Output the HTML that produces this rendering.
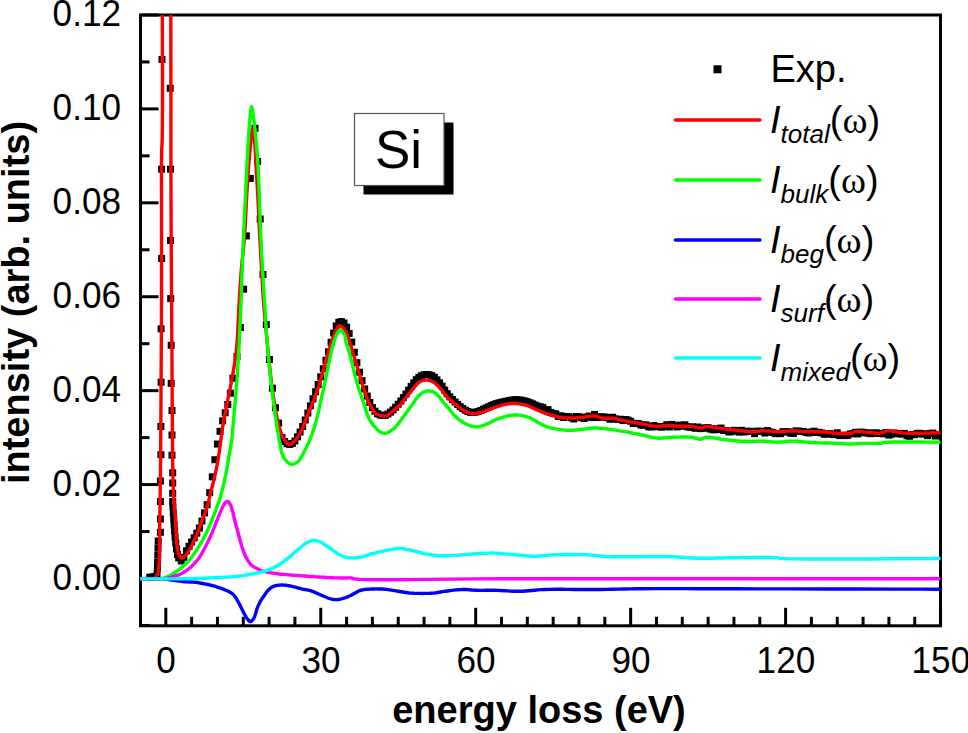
<!DOCTYPE html>
<html><head><meta charset="utf-8"><style>
html,body{margin:0;padding:0;background:#fff;overflow:hidden;}
svg{display:block;}
.tl{font-family:"Liberation Sans",sans-serif;font-size:37px;fill:#000;}
.at{font-family:"Liberation Sans",sans-serif;font-size:38px;font-weight:bold;fill:#000;}
.lg{font-family:"Liberation Sans",sans-serif;font-size:38px;fill:#000;}
.si{font-family:"Liberation Sans",sans-serif;font-size:53px;fill:#000;}
.om{font-family:"Liberation Serif",serif;}
</style></head><body>
<svg width="968" height="733" viewBox="0 0 968 733">
<defs><clipPath id="pc"><rect x="140.5" y="15" width="800" height="610.5"/></clipPath></defs>
<rect x="140.5" y="15.0" width="800.0" height="610.8" fill="none" stroke="#000" stroke-width="3"/>
<line x1="165.80" y1="625.8" x2="165.80" y2="607.8" stroke="#000" stroke-width="3"/>
<line x1="191.62" y1="625.8" x2="191.62" y2="616.8" stroke="#000" stroke-width="3"/>
<line x1="217.45" y1="625.8" x2="217.45" y2="616.8" stroke="#000" stroke-width="3"/>
<line x1="243.28" y1="625.8" x2="243.28" y2="616.8" stroke="#000" stroke-width="3"/>
<line x1="269.10" y1="625.8" x2="269.10" y2="616.8" stroke="#000" stroke-width="3"/>
<line x1="294.93" y1="625.8" x2="294.93" y2="616.8" stroke="#000" stroke-width="3"/>
<line x1="320.75" y1="625.8" x2="320.75" y2="607.8" stroke="#000" stroke-width="3"/>
<line x1="346.58" y1="625.8" x2="346.58" y2="616.8" stroke="#000" stroke-width="3"/>
<line x1="372.40" y1="625.8" x2="372.40" y2="616.8" stroke="#000" stroke-width="3"/>
<line x1="398.23" y1="625.8" x2="398.23" y2="616.8" stroke="#000" stroke-width="3"/>
<line x1="424.05" y1="625.8" x2="424.05" y2="616.8" stroke="#000" stroke-width="3"/>
<line x1="449.88" y1="625.8" x2="449.88" y2="616.8" stroke="#000" stroke-width="3"/>
<line x1="475.70" y1="625.8" x2="475.70" y2="607.8" stroke="#000" stroke-width="3"/>
<line x1="501.53" y1="625.8" x2="501.53" y2="616.8" stroke="#000" stroke-width="3"/>
<line x1="527.35" y1="625.8" x2="527.35" y2="616.8" stroke="#000" stroke-width="3"/>
<line x1="553.17" y1="625.8" x2="553.17" y2="616.8" stroke="#000" stroke-width="3"/>
<line x1="579.00" y1="625.8" x2="579.00" y2="616.8" stroke="#000" stroke-width="3"/>
<line x1="604.83" y1="625.8" x2="604.83" y2="616.8" stroke="#000" stroke-width="3"/>
<line x1="630.65" y1="625.8" x2="630.65" y2="607.8" stroke="#000" stroke-width="3"/>
<line x1="656.48" y1="625.8" x2="656.48" y2="616.8" stroke="#000" stroke-width="3"/>
<line x1="682.30" y1="625.8" x2="682.30" y2="616.8" stroke="#000" stroke-width="3"/>
<line x1="708.12" y1="625.8" x2="708.12" y2="616.8" stroke="#000" stroke-width="3"/>
<line x1="733.95" y1="625.8" x2="733.95" y2="616.8" stroke="#000" stroke-width="3"/>
<line x1="759.78" y1="625.8" x2="759.78" y2="616.8" stroke="#000" stroke-width="3"/>
<line x1="785.60" y1="625.8" x2="785.60" y2="607.8" stroke="#000" stroke-width="3"/>
<line x1="811.42" y1="625.8" x2="811.42" y2="616.8" stroke="#000" stroke-width="3"/>
<line x1="837.25" y1="625.8" x2="837.25" y2="616.8" stroke="#000" stroke-width="3"/>
<line x1="863.08" y1="625.8" x2="863.08" y2="616.8" stroke="#000" stroke-width="3"/>
<line x1="888.90" y1="625.8" x2="888.90" y2="616.8" stroke="#000" stroke-width="3"/>
<line x1="914.72" y1="625.8" x2="914.72" y2="616.8" stroke="#000" stroke-width="3"/>
<line x1="940.55" y1="625.8" x2="940.55" y2="607.8" stroke="#000" stroke-width="3"/>
<line x1="140.5" y1="625.46" x2="149.5" y2="625.46" stroke="#000" stroke-width="3"/>
<line x1="140.5" y1="578.50" x2="158.5" y2="578.50" stroke="#000" stroke-width="3"/>
<line x1="140.5" y1="531.54" x2="149.5" y2="531.54" stroke="#000" stroke-width="3"/>
<line x1="140.5" y1="484.58" x2="158.5" y2="484.58" stroke="#000" stroke-width="3"/>
<line x1="140.5" y1="437.62" x2="149.5" y2="437.62" stroke="#000" stroke-width="3"/>
<line x1="140.5" y1="390.66" x2="158.5" y2="390.66" stroke="#000" stroke-width="3"/>
<line x1="140.5" y1="343.70" x2="149.5" y2="343.70" stroke="#000" stroke-width="3"/>
<line x1="140.5" y1="296.74" x2="158.5" y2="296.74" stroke="#000" stroke-width="3"/>
<line x1="140.5" y1="249.78" x2="149.5" y2="249.78" stroke="#000" stroke-width="3"/>
<line x1="140.5" y1="202.82" x2="158.5" y2="202.82" stroke="#000" stroke-width="3"/>
<line x1="140.5" y1="155.86" x2="149.5" y2="155.86" stroke="#000" stroke-width="3"/>
<line x1="140.5" y1="108.90" x2="158.5" y2="108.90" stroke="#000" stroke-width="3"/>
<line x1="140.5" y1="61.94" x2="149.5" y2="61.94" stroke="#000" stroke-width="3"/>
<line x1="140.5" y1="14.98" x2="158.5" y2="14.98" stroke="#000" stroke-width="3"/>
<g clip-path="url(#pc)" fill="#000">
<rect x="146.30" y="573.70" width="7" height="7"/>
<rect x="148.80" y="573.50" width="7" height="7"/>
<rect x="151.30" y="573.00" width="7" height="7"/>
<rect x="153.50" y="570.50" width="7" height="7"/>
<rect x="153.90" y="564.50" width="7" height="7"/>
<rect x="154.10" y="558.50" width="7" height="7"/>
<rect x="154.30" y="551.50" width="7" height="7"/>
<rect x="154.50" y="544.50" width="7" height="7"/>
<rect x="154.70" y="537.50" width="7" height="7"/>
<rect x="156.90" y="528.80" width="7" height="7"/>
<rect x="156.90" y="515.50" width="7" height="7"/>
<rect x="156.90" y="498.00" width="7" height="7"/>
<rect x="156.90" y="477.50" width="7" height="7"/>
<rect x="157.40" y="451.20" width="7" height="7"/>
<rect x="157.40" y="423.00" width="7" height="7"/>
<rect x="157.60" y="378.70" width="7" height="7"/>
<rect x="157.60" y="325.30" width="7" height="7"/>
<rect x="158.10" y="254.90" width="7" height="7"/>
<rect x="158.10" y="165.70" width="7" height="7"/>
<rect x="158.50" y="56.00" width="7" height="7"/>
<rect x="166.70" y="84.80" width="7" height="7"/>
<rect x="167.00" y="165.70" width="7" height="7"/>
<rect x="167.00" y="237.00" width="7" height="7"/>
<rect x="167.20" y="295.10" width="7" height="7"/>
<rect x="167.70" y="341.80" width="7" height="7"/>
<rect x="167.70" y="379.90" width="7" height="7"/>
<rect x="168.50" y="407.00" width="7" height="7"/>
<rect x="168.50" y="431.50" width="7" height="7"/>
<rect x="168.50" y="451.70" width="7" height="7"/>
<rect x="169.20" y="469.30" width="7" height="7"/>
<rect x="169.20" y="479.50" width="7" height="7"/>
<rect x="169.20" y="489.80" width="7" height="7"/>
<rect x="169.20" y="498.00" width="7" height="7"/>
<rect x="169.40" y="503.50" width="7" height="7"/>
<rect x="169.80" y="509.50" width="7" height="7"/>
<rect x="170.20" y="515.50" width="7" height="7"/>
<rect x="170.60" y="521.50" width="7" height="7"/>
<rect x="171.10" y="527.50" width="7" height="7"/>
<rect x="171.60" y="533.50" width="7" height="7"/>
<rect x="172.20" y="539.50" width="7" height="7"/>
<rect x="173.00" y="545.50" width="7" height="7"/>
<rect x="174.00" y="551.00" width="7" height="7"/>
<rect x="233.50" y="353.10" width="7" height="7"/>
<rect x="236.80" y="324.00" width="7" height="7"/>
<rect x="240.10" y="285.70" width="7" height="7"/>
<rect x="242.90" y="232.40" width="7" height="7"/>
<rect x="246.80" y="174.90" width="7" height="7"/>
<rect x="251.50" y="124.80" width="7" height="7"/>
<rect x="254.10" y="157.90" width="7" height="7"/>
<rect x="256.70" y="215.50" width="7" height="7"/>
<rect x="259.50" y="271.00" width="7" height="7"/>
<rect x="262.80" y="321.10" width="7" height="7"/>
<rect x="265.90" y="356.00" width="7" height="7"/>
<rect x="268.90" y="384.70" width="7" height="7"/>
<rect x="272.00" y="404.20" width="7" height="7"/>
<rect x="275.10" y="419.60" width="7" height="7"/>
<rect x="175.21" y="554.37" width="7" height="7"/>
<rect x="177.80" y="557.47" width="7" height="7"/>
<rect x="180.38" y="553.87" width="7" height="7"/>
<rect x="182.96" y="547.34" width="7" height="7"/>
<rect x="185.54" y="542.80" width="7" height="7"/>
<rect x="188.12" y="538.45" width="7" height="7"/>
<rect x="190.71" y="534.26" width="7" height="7"/>
<rect x="193.29" y="529.68" width="7" height="7"/>
<rect x="195.87" y="524.49" width="7" height="7"/>
<rect x="198.46" y="517.54" width="7" height="7"/>
<rect x="201.04" y="509.36" width="7" height="7"/>
<rect x="203.62" y="501.16" width="7" height="7"/>
<rect x="206.20" y="489.13" width="7" height="7"/>
<rect x="208.79" y="473.31" width="7" height="7"/>
<rect x="211.37" y="456.22" width="7" height="7"/>
<rect x="213.95" y="440.56" width="7" height="7"/>
<rect x="216.53" y="427.84" width="7" height="7"/>
<rect x="219.12" y="417.31" width="7" height="7"/>
<rect x="221.70" y="409.28" width="7" height="7"/>
<rect x="224.28" y="400.96" width="7" height="7"/>
<rect x="226.86" y="389.71" width="7" height="7"/>
<rect x="229.44" y="374.73" width="7" height="7"/>
<rect x="278.51" y="434.02" width="7" height="7"/>
<rect x="281.10" y="438.10" width="7" height="7"/>
<rect x="283.68" y="440.27" width="7" height="7"/>
<rect x="286.26" y="441.01" width="7" height="7"/>
<rect x="288.84" y="439.94" width="7" height="7"/>
<rect x="291.43" y="437.46" width="7" height="7"/>
<rect x="294.01" y="433.36" width="7" height="7"/>
<rect x="296.59" y="428.57" width="7" height="7"/>
<rect x="299.17" y="422.96" width="7" height="7"/>
<rect x="301.75" y="416.45" width="7" height="7"/>
<rect x="304.34" y="409.52" width="7" height="7"/>
<rect x="306.92" y="402.35" width="7" height="7"/>
<rect x="309.50" y="395.24" width="7" height="7"/>
<rect x="312.09" y="388.19" width="7" height="7"/>
<rect x="314.67" y="381.02" width="7" height="7"/>
<rect x="317.25" y="373.36" width="7" height="7"/>
<rect x="319.83" y="365.26" width="7" height="7"/>
<rect x="322.42" y="356.78" width="7" height="7"/>
<rect x="325.00" y="348.23" width="7" height="7"/>
<rect x="327.58" y="338.83" width="7" height="7"/>
<rect x="330.16" y="329.52" width="7" height="7"/>
<rect x="332.75" y="322.40" width="7" height="7"/>
<rect x="335.33" y="318.80" width="7" height="7"/>
<rect x="337.91" y="318.04" width="7" height="7"/>
<rect x="340.49" y="319.49" width="7" height="7"/>
<rect x="343.08" y="323.62" width="7" height="7"/>
<rect x="345.66" y="329.97" width="7" height="7"/>
<rect x="348.24" y="338.59" width="7" height="7"/>
<rect x="350.82" y="348.76" width="7" height="7"/>
<rect x="353.40" y="359.19" width="7" height="7"/>
<rect x="355.99" y="368.74" width="7" height="7"/>
<rect x="358.57" y="377.14" width="7" height="7"/>
<rect x="361.15" y="385.46" width="7" height="7"/>
<rect x="363.74" y="392.57" width="7" height="7"/>
<rect x="366.32" y="398.96" width="7" height="7"/>
<rect x="368.90" y="404.11" width="7" height="7"/>
<rect x="371.48" y="407.70" width="7" height="7"/>
<rect x="374.07" y="410.20" width="7" height="7"/>
<rect x="376.65" y="411.56" width="7" height="7"/>
<rect x="379.23" y="412.05" width="7" height="7"/>
<rect x="381.81" y="411.72" width="7" height="7"/>
<rect x="384.39" y="410.52" width="7" height="7"/>
<rect x="386.98" y="408.64" width="7" height="7"/>
<rect x="389.56" y="406.41" width="7" height="7"/>
<rect x="392.14" y="403.75" width="7" height="7"/>
<rect x="394.73" y="400.73" width="7" height="7"/>
<rect x="397.31" y="397.54" width="7" height="7"/>
<rect x="399.89" y="394.15" width="7" height="7"/>
<rect x="402.47" y="390.54" width="7" height="7"/>
<rect x="405.06" y="386.65" width="7" height="7"/>
<rect x="407.64" y="382.87" width="7" height="7"/>
<rect x="410.22" y="379.35" width="7" height="7"/>
<rect x="412.80" y="376.19" width="7" height="7"/>
<rect x="415.38" y="373.80" width="7" height="7"/>
<rect x="417.97" y="372.24" width="7" height="7"/>
<rect x="420.55" y="371.31" width="7" height="7"/>
<rect x="423.13" y="370.98" width="7" height="7"/>
<rect x="425.72" y="371.29" width="7" height="7"/>
<rect x="428.30" y="372.20" width="7" height="7"/>
<rect x="430.88" y="373.79" width="7" height="7"/>
<rect x="433.46" y="376.34" width="7" height="7"/>
<rect x="436.05" y="379.31" width="7" height="7"/>
<rect x="438.63" y="382.68" width="7" height="7"/>
<rect x="441.21" y="386.61" width="7" height="7"/>
<rect x="443.79" y="390.23" width="7" height="7"/>
<rect x="446.38" y="393.36" width="7" height="7"/>
<rect x="448.96" y="396.06" width="7" height="7"/>
<rect x="451.54" y="398.54" width="7" height="7"/>
<rect x="454.12" y="400.96" width="7" height="7"/>
<rect x="456.71" y="403.16" width="7" height="7"/>
<rect x="459.29" y="405.11" width="7" height="7"/>
<rect x="461.87" y="406.70" width="7" height="7"/>
<rect x="464.45" y="408.05" width="7" height="7"/>
<rect x="467.04" y="408.92" width="7" height="7"/>
<rect x="469.62" y="409.03" width="7" height="7"/>
<rect x="472.20" y="408.60" width="7" height="7"/>
<rect x="474.78" y="407.92" width="7" height="7"/>
<rect x="477.37" y="406.93" width="7" height="7"/>
<rect x="479.95" y="405.70" width="7" height="7"/>
<rect x="482.53" y="404.49" width="7" height="7"/>
<rect x="485.11" y="403.29" width="7" height="7"/>
<rect x="487.69" y="402.06" width="7" height="7"/>
<rect x="490.28" y="400.95" width="7" height="7"/>
<rect x="492.86" y="400.06" width="7" height="7"/>
<rect x="495.44" y="399.35" width="7" height="7"/>
<rect x="498.03" y="398.74" width="7" height="7"/>
<rect x="500.61" y="398.19" width="7" height="7"/>
<rect x="503.19" y="397.63" width="7" height="7"/>
<rect x="505.77" y="397.07" width="7" height="7"/>
<rect x="508.36" y="396.59" width="7" height="7"/>
<rect x="510.94" y="396.32" width="7" height="7"/>
<rect x="513.52" y="396.31" width="7" height="7"/>
<rect x="516.10" y="396.51" width="7" height="7"/>
<rect x="518.68" y="396.89" width="7" height="7"/>
<rect x="521.27" y="397.44" width="7" height="7"/>
<rect x="523.85" y="398.22" width="7" height="7"/>
<rect x="526.43" y="399.25" width="7" height="7"/>
<rect x="529.01" y="400.40" width="7" height="7"/>
<rect x="531.60" y="401.54" width="7" height="7"/>
<rect x="534.18" y="402.68" width="7" height="7"/>
<rect x="536.76" y="403.29" width="7" height="7"/>
<rect x="539.35" y="403.93" width="7" height="7"/>
<rect x="541.93" y="406.75" width="7" height="7"/>
<rect x="544.51" y="406.14" width="7" height="7"/>
<rect x="547.09" y="408.97" width="7" height="7"/>
<rect x="549.67" y="409.89" width="7" height="7"/>
<rect x="552.26" y="410.32" width="7" height="7"/>
<rect x="554.84" y="412.95" width="7" height="7"/>
<rect x="557.42" y="412.26" width="7" height="7"/>
<rect x="560.00" y="413.99" width="7" height="7"/>
<rect x="562.59" y="413.03" width="7" height="7"/>
<rect x="565.17" y="413.17" width="7" height="7"/>
<rect x="567.75" y="414.26" width="7" height="7"/>
<rect x="570.34" y="415.48" width="7" height="7"/>
<rect x="572.92" y="413.06" width="7" height="7"/>
<rect x="575.50" y="413.16" width="7" height="7"/>
<rect x="578.08" y="414.22" width="7" height="7"/>
<rect x="580.66" y="415.01" width="7" height="7"/>
<rect x="583.25" y="413.47" width="7" height="7"/>
<rect x="585.83" y="412.51" width="7" height="7"/>
<rect x="588.41" y="414.06" width="7" height="7"/>
<rect x="591.00" y="410.99" width="7" height="7"/>
<rect x="593.58" y="414.05" width="7" height="7"/>
<rect x="596.16" y="413.30" width="7" height="7"/>
<rect x="598.74" y="413.47" width="7" height="7"/>
<rect x="601.33" y="413.53" width="7" height="7"/>
<rect x="603.91" y="414.12" width="7" height="7"/>
<rect x="606.49" y="415.71" width="7" height="7"/>
<rect x="609.07" y="413.76" width="7" height="7"/>
<rect x="611.65" y="415.34" width="7" height="7"/>
<rect x="614.24" y="416.00" width="7" height="7"/>
<rect x="616.82" y="415.73" width="7" height="7"/>
<rect x="619.40" y="416.93" width="7" height="7"/>
<rect x="621.99" y="416.01" width="7" height="7"/>
<rect x="624.57" y="416.62" width="7" height="7"/>
<rect x="627.15" y="417.76" width="7" height="7"/>
<rect x="629.73" y="419.98" width="7" height="7"/>
<rect x="632.32" y="419.85" width="7" height="7"/>
<rect x="634.90" y="420.11" width="7" height="7"/>
<rect x="637.48" y="421.52" width="7" height="7"/>
<rect x="640.06" y="421.54" width="7" height="7"/>
<rect x="642.64" y="421.44" width="7" height="7"/>
<rect x="645.23" y="423.37" width="7" height="7"/>
<rect x="647.81" y="423.34" width="7" height="7"/>
<rect x="650.39" y="422.08" width="7" height="7"/>
<rect x="652.98" y="423.24" width="7" height="7"/>
<rect x="655.56" y="422.99" width="7" height="7"/>
<rect x="658.14" y="423.74" width="7" height="7"/>
<rect x="660.72" y="422.84" width="7" height="7"/>
<rect x="663.31" y="421.22" width="7" height="7"/>
<rect x="665.89" y="423.48" width="7" height="7"/>
<rect x="668.47" y="420.91" width="7" height="7"/>
<rect x="671.05" y="422.10" width="7" height="7"/>
<rect x="673.63" y="423.41" width="7" height="7"/>
<rect x="676.22" y="421.61" width="7" height="7"/>
<rect x="678.80" y="422.74" width="7" height="7"/>
<rect x="681.38" y="421.31" width="7" height="7"/>
<rect x="683.96" y="423.35" width="7" height="7"/>
<rect x="686.55" y="423.75" width="7" height="7"/>
<rect x="689.13" y="423.38" width="7" height="7"/>
<rect x="691.71" y="424.80" width="7" height="7"/>
<rect x="694.30" y="423.51" width="7" height="7"/>
<rect x="696.88" y="425.10" width="7" height="7"/>
<rect x="699.46" y="424.71" width="7" height="7"/>
<rect x="702.04" y="424.45" width="7" height="7"/>
<rect x="704.62" y="424.18" width="7" height="7"/>
<rect x="707.21" y="425.66" width="7" height="7"/>
<rect x="709.79" y="426.32" width="7" height="7"/>
<rect x="712.37" y="425.16" width="7" height="7"/>
<rect x="714.95" y="426.12" width="7" height="7"/>
<rect x="717.54" y="424.53" width="7" height="7"/>
<rect x="720.12" y="426.89" width="7" height="7"/>
<rect x="722.70" y="427.02" width="7" height="7"/>
<rect x="725.29" y="428.44" width="7" height="7"/>
<rect x="727.87" y="428.20" width="7" height="7"/>
<rect x="730.45" y="426.78" width="7" height="7"/>
<rect x="733.03" y="427.41" width="7" height="7"/>
<rect x="735.62" y="428.60" width="7" height="7"/>
<rect x="738.20" y="426.81" width="7" height="7"/>
<rect x="740.78" y="428.46" width="7" height="7"/>
<rect x="743.36" y="427.79" width="7" height="7"/>
<rect x="745.94" y="427.88" width="7" height="7"/>
<rect x="748.53" y="427.87" width="7" height="7"/>
<rect x="751.11" y="430.14" width="7" height="7"/>
<rect x="753.69" y="427.78" width="7" height="7"/>
<rect x="756.28" y="427.71" width="7" height="7"/>
<rect x="758.86" y="427.94" width="7" height="7"/>
<rect x="761.44" y="429.50" width="7" height="7"/>
<rect x="764.02" y="427.10" width="7" height="7"/>
<rect x="766.61" y="428.46" width="7" height="7"/>
<rect x="769.19" y="428.96" width="7" height="7"/>
<rect x="771.77" y="430.17" width="7" height="7"/>
<rect x="774.35" y="430.02" width="7" height="7"/>
<rect x="776.93" y="430.13" width="7" height="7"/>
<rect x="779.52" y="428.15" width="7" height="7"/>
<rect x="782.10" y="428.46" width="7" height="7"/>
<rect x="784.68" y="428.15" width="7" height="7"/>
<rect x="787.27" y="429.75" width="7" height="7"/>
<rect x="789.85" y="429.97" width="7" height="7"/>
<rect x="792.43" y="427.44" width="7" height="7"/>
<rect x="795.01" y="427.63" width="7" height="7"/>
<rect x="797.60" y="427.94" width="7" height="7"/>
<rect x="800.18" y="428.08" width="7" height="7"/>
<rect x="802.76" y="429.03" width="7" height="7"/>
<rect x="805.34" y="429.49" width="7" height="7"/>
<rect x="807.92" y="428.54" width="7" height="7"/>
<rect x="810.51" y="427.73" width="7" height="7"/>
<rect x="813.09" y="429.01" width="7" height="7"/>
<rect x="815.67" y="428.80" width="7" height="7"/>
<rect x="818.26" y="429.42" width="7" height="7"/>
<rect x="820.84" y="430.78" width="7" height="7"/>
<rect x="823.42" y="430.29" width="7" height="7"/>
<rect x="826.00" y="430.19" width="7" height="7"/>
<rect x="828.59" y="430.81" width="7" height="7"/>
<rect x="831.17" y="431.16" width="7" height="7"/>
<rect x="833.75" y="429.29" width="7" height="7"/>
<rect x="836.33" y="432.08" width="7" height="7"/>
<rect x="838.91" y="431.76" width="7" height="7"/>
<rect x="841.50" y="432.09" width="7" height="7"/>
<rect x="844.08" y="431.83" width="7" height="7"/>
<rect x="846.66" y="430.45" width="7" height="7"/>
<rect x="849.25" y="430.13" width="7" height="7"/>
<rect x="851.83" y="428.79" width="7" height="7"/>
<rect x="854.41" y="430.41" width="7" height="7"/>
<rect x="856.99" y="428.65" width="7" height="7"/>
<rect x="859.58" y="428.80" width="7" height="7"/>
<rect x="862.16" y="429.42" width="7" height="7"/>
<rect x="864.74" y="429.45" width="7" height="7"/>
<rect x="867.32" y="430.20" width="7" height="7"/>
<rect x="869.90" y="429.44" width="7" height="7"/>
<rect x="872.49" y="429.42" width="7" height="7"/>
<rect x="875.07" y="429.98" width="7" height="7"/>
<rect x="877.65" y="429.78" width="7" height="7"/>
<rect x="880.24" y="430.35" width="7" height="7"/>
<rect x="882.82" y="428.96" width="7" height="7"/>
<rect x="885.40" y="431.59" width="7" height="7"/>
<rect x="887.98" y="430.81" width="7" height="7"/>
<rect x="890.57" y="429.45" width="7" height="7"/>
<rect x="893.15" y="429.93" width="7" height="7"/>
<rect x="895.73" y="430.38" width="7" height="7"/>
<rect x="898.31" y="430.56" width="7" height="7"/>
<rect x="900.89" y="429.88" width="7" height="7"/>
<rect x="903.48" y="432.24" width="7" height="7"/>
<rect x="906.06" y="432.73" width="7" height="7"/>
<rect x="908.64" y="431.05" width="7" height="7"/>
<rect x="911.22" y="431.11" width="7" height="7"/>
<rect x="913.81" y="429.83" width="7" height="7"/>
<rect x="916.39" y="429.88" width="7" height="7"/>
<rect x="918.97" y="430.63" width="7" height="7"/>
<rect x="921.56" y="430.37" width="7" height="7"/>
<rect x="924.14" y="432.16" width="7" height="7"/>
<rect x="926.72" y="430.01" width="7" height="7"/>
<rect x="929.30" y="429.54" width="7" height="7"/>
<rect x="931.88" y="432.49" width="7" height="7"/>
<rect x="934.47" y="431.11" width="7" height="7"/>
</g>
<g clip-path="url(#pc)" fill="none" stroke-width="3.4" stroke-linejoin="round" stroke-linecap="round">
<path d="M130.00,578.60 L130.69,578.60 L132.55,578.60 L135.24,578.60 L138.46,578.59 L141.86,578.58 L145.14,578.56 L147.96,578.54 L150.00,578.50 L150.66,578.49 L151.25,578.48 L151.80,578.48 L152.30,578.48 L152.76,578.46 L153.19,578.43 L153.60,578.38 L154.00,578.30 L154.27,578.23 L154.52,578.17 L154.76,578.09 L154.99,578.01 L155.20,577.91 L155.41,577.79 L155.61,577.66 L155.80,577.50 L156.02,577.27 L156.22,577.01 L156.41,576.72 L156.58,576.40 L156.74,576.07 L156.90,575.72 L157.05,575.36 L157.20,575.00 L157.37,574.56 L157.53,574.10 L157.68,573.62 L157.82,573.12 L157.95,572.61 L158.07,572.09 L158.19,571.55 L158.30,571.00 L158.42,570.32 L158.53,569.63 L158.63,568.91 L158.72,568.18 L158.80,567.42 L158.87,566.64 L158.94,565.83 L159.00,565.00 L159.07,563.89 L159.13,562.73 L159.17,561.53 L159.20,560.29 L159.23,559.01 L159.25,557.70 L159.27,556.36 L159.30,555.00 L159.33,553.28 L159.36,551.51 L159.39,549.69 L159.41,547.82 L159.43,545.92 L159.45,543.97 L159.47,542.00 L159.50,540.00 L159.53,537.64 L159.57,535.20 L159.61,532.71 L159.65,530.18 L159.68,527.63 L159.72,525.07 L159.76,522.52 L159.80,520.00 L159.84,517.53 L159.87,515.09 L159.91,512.68 L159.95,510.25 L159.99,507.80 L160.02,505.28 L160.06,502.69 L160.10,500.00 L160.15,496.57 L160.20,493.03 L160.25,489.38 L160.31,485.65 L160.36,481.83 L160.41,477.95 L160.46,474.00 L160.50,470.00 L160.55,465.31 L160.59,460.51 L160.63,455.62 L160.66,450.64 L160.70,445.58 L160.73,440.45 L160.77,435.25 L160.80,430.00 L160.84,424.10 L160.88,418.17 L160.91,412.17 L160.95,406.08 L160.99,399.85 L161.02,393.45 L161.06,386.85 L161.10,380.00 L161.15,370.96 L161.21,361.52 L161.26,351.76 L161.32,341.73 L161.38,331.48 L161.43,321.07 L161.47,310.55 L161.50,300.00 L161.52,287.79 L161.53,274.93 L161.53,261.72 L161.52,248.43 L161.51,235.33 L161.50,222.71 L161.50,210.84 L161.50,200.00 L161.50,192.95 L161.48,186.02 L161.47,179.32 L161.45,172.91 L161.45,166.89 L161.47,161.34 L161.52,156.35 L161.60,152.00 L161.66,150.21 L161.73,148.74 L161.81,147.49 L161.89,146.32 L161.98,145.11 L162.06,143.74 L162.13,142.07 L162.20,140.00 L162.36,127.92 L162.44,109.21 L162.47,86.42 L162.45,62.07 L162.41,38.72 L162.36,18.90 L162.32,5.15 L162.30,0.00 M170.80,0.00 L170.80,2.93 L170.81,10.94 L170.82,22.85 L170.84,37.50 L170.85,53.71 L170.87,70.31 L170.89,86.13 L170.90,100.00 L170.91,112.54 L170.91,125.12 L170.92,137.73 L170.92,150.33 L170.93,162.89 L170.94,175.37 L170.97,187.75 L171.00,200.00 L171.04,211.48 L171.09,222.83 L171.15,234.10 L171.22,245.30 L171.29,256.46 L171.36,267.61 L171.43,278.78 L171.50,290.00 L171.57,301.37 L171.65,312.93 L171.72,324.55 L171.80,336.14 L171.88,347.58 L171.96,358.78 L172.03,369.62 L172.10,380.00 L172.15,388.16 L172.20,396.14 L172.25,403.92 L172.29,411.52 L172.34,418.92 L172.39,426.14 L172.44,433.16 L172.50,440.00 L172.55,445.48 L172.60,450.89 L172.64,456.20 L172.69,461.36 L172.75,466.36 L172.82,471.16 L172.90,475.71 L173.00,480.00 L173.08,482.86 L173.16,485.58 L173.24,488.19 L173.33,490.70 L173.43,493.12 L173.54,495.46 L173.66,497.75 L173.80,500.00 L173.93,501.75 L174.07,503.41 L174.23,505.00 L174.39,506.57 L174.55,508.12 L174.71,509.69 L174.86,511.31 L175.00,513.00 L175.14,515.03 L175.28,517.15 L175.41,519.31 L175.53,521.51 L175.65,523.70 L175.77,525.87 L175.88,527.97 L176.00,530.00 L176.10,531.70 L176.18,533.36 L176.25,535.00 L176.33,536.61 L176.42,538.19 L176.52,539.75 L176.65,541.29 L176.80,542.80 L176.96,544.17 L177.13,545.55 L177.31,546.93 L177.51,548.28 L177.73,549.59 L177.96,550.82 L178.22,551.97 L178.50,553.00 L178.69,553.62 L178.89,554.21 L179.10,554.77 L179.31,555.30 L179.54,555.79 L179.77,556.24 L180.03,556.64 L180.30,557.00 L180.50,557.23 L180.71,557.45 L180.93,557.66 L181.16,557.84 L181.39,557.99 L181.62,558.10 L181.86,558.18 L182.10,558.20 L182.38,558.16 L182.67,558.05 L182.96,557.88 L183.26,557.67 L183.56,557.41 L183.87,557.12 L184.18,556.82 L184.50,556.50 L185.04,555.92 L185.60,555.25 L186.18,554.50 L186.77,553.68 L187.38,552.80 L187.98,551.87 L188.59,550.90 L189.20,549.90 L190.07,548.40 L190.97,546.76 L191.89,545.01 L192.82,543.18 L193.73,541.30 L194.63,539.41 L195.49,537.53 L196.30,535.70 L197.04,533.95 L197.74,532.19 L198.41,530.43 L199.05,528.67 L199.68,526.90 L200.31,525.14 L200.95,523.37 L201.60,521.60 L202.27,519.83 L202.96,518.06 L203.66,516.29 L204.35,514.52 L205.03,512.75 L205.69,510.97 L206.32,509.19 L206.90,507.40 L207.42,505.65 L207.90,503.90 L208.35,502.16 L208.78,500.41 L209.20,498.65 L209.61,496.87 L210.05,495.05 L210.50,493.20 L211.04,491.08 L211.59,488.92 L212.16,486.71 L212.73,484.48 L213.30,482.23 L213.85,479.98 L214.39,477.73 L214.90,475.50 L215.38,473.31 L215.84,471.17 L216.29,469.04 L216.72,466.90 L217.15,464.72 L217.56,462.48 L217.98,460.15 L218.40,457.70 L218.93,454.34 L219.43,450.75 L219.93,447.00 L220.42,443.15 L220.91,439.27 L221.42,435.41 L221.94,431.63 L222.50,428.00 L223.03,424.80 L223.59,421.66 L224.15,418.56 L224.73,415.50 L225.32,412.45 L225.91,409.41 L226.50,406.37 L227.10,403.30 L227.70,400.24 L228.32,397.20 L228.95,394.17 L229.58,391.14 L230.20,388.09 L230.82,385.01 L231.42,381.89 L232.00,378.70 L232.62,375.20 L233.23,371.70 L233.84,368.18 L234.43,364.60 L235.00,360.95 L235.54,357.18 L236.04,353.27 L236.50,349.20 L237.01,343.59 L237.44,337.55 L237.80,331.22 L238.11,324.73 L238.40,318.23 L238.68,311.86 L238.98,305.73 L239.30,300.00 L239.57,295.67 L239.83,291.50 L240.09,287.47 L240.35,283.54 L240.62,279.66 L240.89,275.80 L241.18,271.93 L241.50,268.00 L241.84,264.12 L242.22,260.28 L242.61,256.46 L243.02,252.64 L243.42,248.81 L243.81,244.93 L244.17,241.01 L244.50,237.00 L244.81,232.48 L245.10,227.81 L245.36,223.05 L245.60,218.26 L245.82,213.49 L246.04,208.82 L246.27,204.30 L246.50,200.00 L246.69,196.66 L246.87,193.46 L247.04,190.37 L247.21,187.34 L247.39,184.33 L247.58,181.29 L247.78,178.20 L248.00,175.00 L248.27,171.31 L248.55,167.46 L248.86,163.51 L249.17,159.55 L249.50,155.65 L249.83,151.87 L250.17,148.30 L250.50,145.00 L250.74,142.61 L250.98,140.04 L251.22,137.46 L251.46,135.00 L251.71,132.83 L251.96,131.08 L252.23,129.93 L252.50,129.50 L252.74,129.77 L253.00,130.53 L253.26,131.69 L253.53,133.14 L253.80,134.80 L254.05,136.56 L254.29,138.32 L254.50,140.00 L254.78,142.58 L255.00,145.39 L255.19,148.40 L255.36,151.56 L255.51,154.84 L255.66,158.20 L255.82,161.60 L256.00,165.00 L256.24,169.11 L256.49,173.38 L256.75,177.77 L257.01,182.24 L257.27,186.74 L257.52,191.23 L257.77,195.66 L258.00,200.00 L258.20,204.03 L258.39,208.00 L258.58,211.93 L258.75,215.85 L258.93,219.77 L259.11,223.72 L259.30,227.72 L259.50,231.80 L259.73,236.27 L259.96,240.81 L260.21,245.40 L260.46,250.03 L260.71,254.68 L260.97,259.34 L261.23,263.98 L261.50,268.60 L261.77,273.23 L262.04,277.90 L262.31,282.58 L262.58,287.25 L262.87,291.90 L263.17,296.48 L263.47,300.99 L263.80,305.40 L264.11,309.25 L264.43,313.02 L264.76,316.73 L265.10,320.39 L265.44,324.03 L265.79,327.66 L266.15,331.31 L266.50,335.00 L266.86,338.76 L267.22,342.55 L267.59,346.36 L267.96,350.16 L268.34,353.94 L268.72,357.69 L269.11,361.38 L269.50,365.00 L269.86,368.25 L270.22,371.48 L270.59,374.67 L270.96,377.82 L271.34,380.93 L271.72,384.00 L272.11,387.03 L272.50,390.00 L272.86,392.64 L273.22,395.28 L273.59,397.89 L273.97,400.46 L274.34,402.98 L274.73,405.42 L275.11,407.76 L275.50,410.00 L275.80,411.66 L276.11,413.26 L276.41,414.81 L276.72,416.31 L277.03,417.77 L277.34,419.20 L277.67,420.61 L278.00,422.00 L278.29,423.20 L278.58,424.36 L278.87,425.51 L279.16,426.63 L279.47,427.74 L279.79,428.83 L280.13,429.92 L280.50,431.00 L280.88,432.05 L281.26,433.10 L281.67,434.15 L282.09,435.18 L282.53,436.19 L282.99,437.17 L283.48,438.11 L284.00,439.00 L284.48,439.80 L284.99,440.63 L285.51,441.47 L286.05,442.26 L286.61,442.98 L287.19,443.58 L287.79,444.03 L288.40,444.30 L288.94,444.37 L289.51,444.31 L290.10,444.15 L290.69,443.90 L291.29,443.60 L291.88,443.25 L292.45,442.87 L293.00,442.50 L293.61,442.03 L294.21,441.51 L294.79,440.92 L295.35,440.29 L295.91,439.62 L296.45,438.93 L296.98,438.22 L297.50,437.50 L298.07,436.68 L298.62,435.83 L299.14,434.96 L299.66,434.06 L300.16,433.11 L300.67,432.13 L301.18,431.09 L301.70,430.00 L302.42,428.39 L303.13,426.63 L303.85,424.77 L304.56,422.84 L305.28,420.86 L306.01,418.87 L306.75,416.91 L307.50,415.00 L308.28,413.14 L309.07,411.30 L309.88,409.47 L310.70,407.65 L311.52,405.80 L312.33,403.92 L313.12,401.99 L313.90,400.00 L314.77,397.65 L315.63,395.22 L316.47,392.74 L317.31,390.21 L318.13,387.65 L318.94,385.08 L319.73,382.53 L320.50,380.00 L321.24,377.49 L321.96,374.94 L322.65,372.38 L323.34,369.83 L324.01,367.29 L324.67,364.80 L325.34,362.36 L326.00,360.00 L326.57,358.00 L327.14,356.04 L327.70,354.11 L328.26,352.21 L328.81,350.35 L329.37,348.53 L329.93,346.74 L330.50,345.00 L330.98,343.52 L331.46,342.07 L331.93,340.65 L332.40,339.26 L332.89,337.90 L333.39,336.57 L333.93,335.27 L334.50,334.00 L335.04,332.80 L335.60,331.50 L336.17,330.18 L336.77,328.91 L337.39,327.76 L338.03,326.81 L338.70,326.13 L339.40,325.80 L340.04,325.81 L340.73,326.03 L341.45,326.45 L342.18,327.01 L342.90,327.68 L343.61,328.43 L344.28,329.22 L344.90,330.00 L345.67,331.18 L346.37,332.54 L347.02,334.05 L347.62,335.67 L348.18,337.35 L348.73,339.04 L349.26,340.70 L349.80,342.30 L350.32,343.82 L350.80,345.34 L351.27,346.86 L351.72,348.39 L352.16,349.92 L352.60,351.44 L353.05,352.97 L353.50,354.50 L353.96,356.03 L354.43,357.57 L354.89,359.11 L355.35,360.65 L355.81,362.19 L356.28,363.72 L356.74,365.26 L357.20,366.80 L357.66,368.34 L358.13,369.88 L358.59,371.41 L359.06,372.95 L359.52,374.49 L359.98,376.03 L360.44,377.56 L360.90,379.10 L361.35,380.63 L361.78,382.16 L362.20,383.68 L362.63,385.21 L363.07,386.74 L363.52,388.26 L363.99,389.78 L364.50,391.30 L365.04,392.86 L365.60,394.43 L366.17,396.01 L366.76,397.58 L367.38,399.13 L368.02,400.66 L368.69,402.15 L369.40,403.60 L370.08,404.96 L370.78,406.35 L371.50,407.73 L372.25,409.08 L373.03,410.36 L373.84,411.53 L374.70,412.55 L375.60,413.40 L376.34,413.92 L377.13,414.34 L377.95,414.69 L378.79,414.97 L379.64,415.19 L380.46,415.38 L381.25,415.55 L382.00,415.70 L382.54,415.82 L383.06,415.92 L383.57,416.02 L384.07,416.09 L384.56,416.13 L385.04,416.13 L385.52,416.09 L386.00,416.00 L386.52,415.83 L387.03,415.60 L387.54,415.31 L388.04,414.98 L388.53,414.62 L389.02,414.25 L389.51,413.87 L390.00,413.50 L390.51,413.11 L391.00,412.70 L391.48,412.28 L391.96,411.84 L392.45,411.39 L392.95,410.94 L393.46,410.47 L394.00,410.00 L394.69,409.43 L395.42,408.85 L396.18,408.26 L396.96,407.66 L397.74,407.03 L398.51,406.39 L399.27,405.71 L400.00,405.00 L400.78,404.16 L401.55,403.27 L402.30,402.34 L403.04,401.38 L403.77,400.40 L404.51,399.42 L405.25,398.45 L406.00,397.50 L406.76,396.56 L407.52,395.62 L408.28,394.67 L409.05,393.73 L409.81,392.79 L410.58,391.85 L411.34,390.92 L412.10,390.00 L412.84,389.08 L413.58,388.12 L414.33,387.15 L415.07,386.20 L415.81,385.28 L416.55,384.42 L417.28,383.66 L418.00,383.00 L418.50,382.61 L419.00,382.26 L419.49,381.95 L419.98,381.67 L420.47,381.42 L420.97,381.20 L421.48,380.99 L422.00,380.80 L422.53,380.62 L423.07,380.46 L423.61,380.32 L424.17,380.20 L424.72,380.11 L425.28,380.04 L425.84,380.01 L426.40,380.00 L426.97,380.03 L427.55,380.09 L428.14,380.18 L428.72,380.30 L429.30,380.44 L429.88,380.61 L430.45,380.80 L431.00,381.00 L431.55,381.22 L432.09,381.47 L432.61,381.74 L433.14,382.03 L433.65,382.34 L434.17,382.67 L434.68,383.02 L435.20,383.40 L435.80,383.87 L436.40,384.37 L436.99,384.90 L437.58,385.46 L438.18,386.05 L438.78,386.67 L439.38,387.32 L440.00,388.00 L440.80,388.95 L441.60,390.00 L442.41,391.11 L443.22,392.27 L444.06,393.44 L444.93,394.60 L445.84,395.73 L446.80,396.80 L447.89,397.90 L449.07,398.99 L450.29,400.06 L451.55,401.12 L452.81,402.14 L454.06,403.14 L455.26,404.09 L456.40,405.00 L457.27,405.71 L458.09,406.39 L458.89,407.05 L459.68,407.69 L460.47,408.31 L461.28,408.90 L462.12,409.46 L463.00,410.00 L463.97,410.55 L464.97,411.10 L466.00,411.64 L467.05,412.14 L468.12,412.59 L469.20,412.98 L470.30,413.29 L471.40,413.50 L472.53,413.61 L473.68,413.64 L474.83,413.58 L476.01,413.45 L477.19,413.27 L478.40,413.04 L479.64,412.78 L480.90,412.50 L482.51,412.08 L484.18,411.55 L485.90,410.94 L487.65,410.28 L489.41,409.60 L491.15,408.92 L492.85,408.28 L494.50,407.70 L495.93,407.22 L497.32,406.73 L498.70,406.24 L500.06,405.78 L501.41,405.34 L502.76,404.94 L504.12,404.59 L505.50,404.30 L506.85,404.07 L508.21,403.88 L509.58,403.73 L510.94,403.62 L512.31,403.55 L513.68,403.52 L515.04,403.54 L516.40,403.60 L517.77,403.71 L519.14,403.87 L520.51,404.07 L521.88,404.32 L523.24,404.61 L524.60,404.93 L525.96,405.30 L527.30,405.70 L528.68,406.18 L530.05,406.73 L531.41,407.34 L532.77,407.98 L534.12,408.64 L535.47,409.29 L536.83,409.92 L538.20,410.50 L539.55,411.04 L540.91,411.58 L542.27,412.10 L543.63,412.62 L544.99,413.12 L546.36,413.60 L547.73,414.06 L549.10,414.50 L550.45,414.92 L551.81,415.33 L553.18,415.73 L554.54,416.10 L555.91,416.45 L557.27,416.77 L558.64,417.06 L560.00,417.30 L561.31,417.49 L562.61,417.65 L563.90,417.77 L565.20,417.86 L566.50,417.93 L567.81,417.97 L569.15,417.99 L570.50,418.00 L572.00,417.98 L573.53,417.92 L575.08,417.84 L576.64,417.73 L578.21,417.60 L579.78,417.47 L581.34,417.33 L582.90,417.20 L584.48,417.04 L586.11,416.82 L587.75,416.58 L589.38,416.34 L590.98,416.13 L592.51,415.99 L593.96,415.93 L595.30,416.00 L596.17,416.14 L596.96,416.36 L597.69,416.64 L598.40,416.94 L599.11,417.25 L599.84,417.54 L600.63,417.80 L601.50,418.00 L602.84,418.17 L604.29,418.24 L605.83,418.25 L607.43,418.23 L609.06,418.20 L610.71,418.21 L612.33,418.26 L613.90,418.40 L615.45,418.63 L616.98,418.92 L618.50,419.25 L620.02,419.62 L621.55,420.00 L623.10,420.38 L624.68,420.76 L626.30,421.10 L628.15,421.46 L630.05,421.82 L631.98,422.17 L633.94,422.53 L635.91,422.87 L637.88,423.22 L639.85,423.56 L641.80,423.90 L643.76,424.27 L645.77,424.67 L647.78,425.09 L649.79,425.50 L651.77,425.87 L653.70,426.17 L655.55,426.39 L657.30,426.50 L658.56,426.48 L659.76,426.38 L660.90,426.21 L662.01,426.01 L663.11,425.81 L664.23,425.62 L665.39,425.48 L666.60,425.40 L668.06,425.40 L669.57,425.46 L671.12,425.56 L672.69,425.69 L674.27,425.84 L675.86,425.98 L677.44,426.11 L679.00,426.20 L680.56,426.25 L682.14,426.27 L683.73,426.28 L685.31,426.29 L686.88,426.30 L688.43,426.33 L689.94,426.39 L691.40,426.50 L692.65,426.66 L693.88,426.88 L695.10,427.14 L696.29,427.40 L697.46,427.65 L698.58,427.85 L699.67,427.98 L700.70,428.00 L701.44,427.93 L702.11,427.78 L702.73,427.59 L703.35,427.37 L703.97,427.15 L704.64,426.95 L705.37,426.79 L706.20,426.70 L707.86,426.69 L709.75,426.82 L711.82,427.05 L714.02,427.36 L716.30,427.70 L718.63,428.07 L720.94,428.41 L723.20,428.70 L725.68,428.99 L728.27,429.30 L730.92,429.61 L733.58,429.93 L736.21,430.23 L738.75,430.52 L741.16,430.78 L743.40,431.00 L744.92,431.15 L746.38,431.30 L747.77,431.45 L749.12,431.58 L750.43,431.69 L751.70,431.77 L752.96,431.81 L754.20,431.80 L755.22,431.74 L756.18,431.63 L757.10,431.48 L758.01,431.32 L758.93,431.15 L759.89,431.00 L760.91,430.88 L762.00,430.80 L763.68,430.78 L765.50,430.83 L767.42,430.94 L769.42,431.07 L771.45,431.22 L773.50,431.35 L775.53,431.45 L777.50,431.50 L779.43,431.49 L781.34,431.43 L783.25,431.35 L785.16,431.25 L787.08,431.15 L789.03,431.07 L791.00,431.01 L793.00,431.00 L795.27,431.04 L797.62,431.12 L800.02,431.24 L802.43,431.37 L804.83,431.50 L807.17,431.63 L809.44,431.73 L811.60,431.80 L813.29,431.82 L814.95,431.80 L816.56,431.77 L818.14,431.74 L819.68,431.71 L821.17,431.70 L822.61,431.73 L824.00,431.80 L825.03,431.90 L825.98,432.02 L826.88,432.17 L827.76,432.33 L828.65,432.49 L829.58,432.65 L830.59,432.79 L831.70,432.90 L833.68,433.05 L835.95,433.21 L838.41,433.35 L840.97,433.46 L843.50,433.53 L845.92,433.54 L848.12,433.46 L850.00,433.30 L850.93,433.14 L851.72,432.91 L852.43,432.66 L853.10,432.38 L853.78,432.11 L854.51,431.86 L855.33,431.65 L856.30,431.50 L858.63,431.43 L861.48,431.60 L864.68,431.92 L868.07,432.32 L871.48,432.71 L874.73,433.03 L877.66,433.18 L880.10,433.10 L881.24,432.91 L882.24,432.64 L883.13,432.31 L883.97,431.96 L884.81,431.61 L885.67,431.30 L886.62,431.05 L887.70,430.90 L889.48,430.88 L891.37,431.04 L893.37,431.34 L895.49,431.72 L897.73,432.14 L900.07,432.54 L902.53,432.88 L905.10,433.10 L909.85,433.24 L915.79,433.25 L922.37,433.17 L929.01,433.02 L935.16,432.84 L940.25,432.68 L943.72,432.55 L945.00,432.50" stroke="#ff0000"/>
<path d="M130.00,578.60 L131.04,578.63 L133.82,578.69 L137.87,578.77 L142.69,578.85 L147.80,578.89 L152.71,578.88 L156.94,578.79 L160.00,578.60 L160.98,578.48 L161.85,578.36 L162.63,578.22 L163.34,578.07 L164.01,577.91 L164.66,577.73 L165.32,577.52 L166.00,577.30 L166.65,577.07 L167.28,576.83 L167.89,576.57 L168.49,576.30 L169.10,576.01 L169.71,575.70 L170.34,575.36 L171.00,575.00 L171.90,574.49 L172.84,573.91 L173.82,573.30 L174.81,572.65 L175.81,571.99 L176.78,571.31 L177.72,570.65 L178.60,570.00 L179.33,569.45 L180.04,568.90 L180.72,568.35 L181.39,567.80 L182.05,567.25 L182.69,566.68 L183.34,566.10 L184.00,565.50 L184.69,564.86 L185.37,564.22 L186.04,563.58 L186.71,562.91 L187.38,562.23 L188.05,561.52 L188.72,560.78 L189.40,560.00 L190.22,559.01 L191.05,557.96 L191.88,556.87 L192.71,555.74 L193.54,554.58 L194.37,553.39 L195.19,552.20 L196.00,551.00 L196.87,549.69 L197.75,548.35 L198.63,546.98 L199.51,545.59 L200.36,544.19 L201.20,542.78 L202.02,541.39 L202.80,540.00 L203.52,538.69 L204.21,537.37 L204.88,536.05 L205.54,534.73 L206.18,533.41 L206.80,532.10 L207.40,530.79 L208.00,529.50 L208.54,528.30 L209.06,527.11 L209.57,525.94 L210.06,524.76 L210.55,523.59 L211.03,522.41 L211.51,521.21 L212.00,520.00 L212.51,518.71 L213.02,517.41 L213.53,516.08 L214.04,514.76 L214.54,513.43 L215.03,512.10 L215.52,510.79 L216.00,509.50 L216.45,508.29 L216.89,507.09 L217.33,505.90 L217.77,504.71 L218.19,503.53 L218.61,502.35 L219.01,501.18 L219.40,500.00 L219.76,498.87 L220.10,497.76 L220.43,496.66 L220.76,495.55 L221.07,494.44 L221.38,493.31 L221.69,492.17 L222.00,491.00 L222.34,489.68 L222.68,488.34 L223.01,486.98 L223.33,485.61 L223.66,484.21 L223.98,482.81 L224.29,481.41 L224.60,480.00 L224.92,478.53 L225.23,477.05 L225.53,475.56 L225.84,474.07 L226.13,472.56 L226.43,471.05 L226.72,469.53 L227.00,468.00 L227.29,466.41 L227.57,464.81 L227.84,463.21 L228.11,461.59 L228.38,459.97 L228.65,458.33 L228.92,456.67 L229.20,455.00 L229.51,453.18 L229.84,451.35 L230.17,449.50 L230.50,447.63 L230.83,445.75 L231.14,443.85 L231.43,441.93 L231.70,440.00 L231.95,437.97 L232.17,435.98 L232.36,433.99 L232.54,431.98 L232.71,429.90 L232.89,427.73 L233.09,425.44 L233.30,423.00 L233.66,419.06 L234.05,414.77 L234.46,410.20 L234.89,405.44 L235.31,400.56 L235.73,395.66 L236.13,390.81 L236.50,386.10 L236.84,381.51 L237.17,376.95 L237.48,372.40 L237.78,367.85 L238.07,363.27 L238.36,358.65 L238.63,353.96 L238.90,349.20 L239.18,343.88 L239.46,338.43 L239.72,332.88 L239.98,327.30 L240.22,321.71 L240.46,316.17 L240.68,310.72 L240.90,305.40 L241.09,300.65 L241.26,295.98 L241.42,291.37 L241.57,286.80 L241.72,282.26 L241.87,277.72 L242.03,273.18 L242.20,268.60 L242.38,264.00 L242.55,259.40 L242.73,254.80 L242.92,250.20 L243.11,245.60 L243.30,241.00 L243.50,236.40 L243.70,231.80 L243.91,227.21 L244.13,222.64 L244.35,218.07 L244.57,213.51 L244.80,208.93 L245.04,204.32 L245.27,199.68 L245.50,195.00 L245.74,190.00 L245.98,184.90 L246.23,179.74 L246.47,174.57 L246.72,169.42 L246.97,164.35 L247.23,159.39 L247.50,154.60 L247.73,150.51 L247.96,146.44 L248.19,142.43 L248.43,138.48 L248.67,134.64 L248.93,130.93 L249.20,127.37 L249.50,124.00 L249.73,121.38 L249.98,118.55 L250.23,115.68 L250.48,112.95 L250.75,110.52 L251.02,108.57 L251.31,107.28 L251.60,106.80 L251.86,107.14 L252.14,108.09 L252.43,109.50 L252.72,111.26 L253.01,113.22 L253.29,115.25 L253.55,117.22 L253.80,119.00 L254.05,120.88 L254.29,122.80 L254.50,124.76 L254.71,126.76 L254.91,128.78 L255.10,130.83 L255.30,132.91 L255.50,135.00 L255.73,137.31 L255.96,139.59 L256.20,141.89 L256.43,144.23 L256.65,146.65 L256.88,149.16 L257.09,151.80 L257.30,154.60 L257.59,158.97 L257.86,163.72 L258.13,168.77 L258.38,174.01 L258.63,179.35 L258.86,184.69 L259.09,189.94 L259.30,195.00 L259.49,199.68 L259.65,204.32 L259.80,208.93 L259.95,213.51 L260.09,218.08 L260.25,222.64 L260.41,227.21 L260.60,231.80 L260.81,236.40 L261.02,241.00 L261.25,245.60 L261.49,250.20 L261.73,254.80 L261.98,259.40 L262.24,264.00 L262.50,268.60 L262.77,273.25 L263.06,277.97 L263.36,282.73 L263.66,287.46 L263.96,292.14 L264.25,296.72 L264.53,301.15 L264.80,305.40 L265.00,308.67 L265.18,311.77 L265.35,314.75 L265.51,317.68 L265.68,320.60 L265.87,323.59 L266.07,326.71 L266.30,330.00 L266.62,334.34 L266.96,338.85 L267.32,343.51 L267.70,348.29 L268.11,353.16 L268.55,358.08 L269.01,363.04 L269.50,368.00 L270.07,373.52 L270.69,379.21 L271.34,385.01 L272.02,390.85 L272.73,396.65 L273.45,402.34 L274.17,407.85 L274.90,413.10 L275.52,417.35 L276.16,421.61 L276.82,425.81 L277.49,429.90 L278.15,433.82 L278.79,437.52 L279.41,440.93 L280.00,444.00 L280.32,445.68 L280.60,447.25 L280.86,448.73 L281.13,450.12 L281.41,451.44 L281.72,452.68 L282.08,453.87 L282.50,455.00 L282.86,455.82 L283.24,456.59 L283.65,457.32 L284.07,458.01 L284.52,458.67 L284.99,459.30 L285.48,459.91 L286.00,460.50 L286.53,461.07 L287.08,461.66 L287.66,462.23 L288.26,462.77 L288.88,463.26 L289.51,463.67 L290.15,463.99 L290.80,464.20 L291.43,464.28 L292.09,464.27 L292.77,464.17 L293.45,464.01 L294.13,463.80 L294.79,463.55 L295.42,463.28 L296.00,463.00 L296.50,462.72 L296.98,462.41 L297.44,462.07 L297.88,461.70 L298.30,461.30 L298.71,460.89 L299.11,460.45 L299.50,460.00 L299.93,459.46 L300.33,458.87 L300.72,458.26 L301.09,457.61 L301.45,456.96 L301.80,456.30 L302.15,455.64 L302.50,455.00 L302.83,454.38 L303.16,453.76 L303.47,453.13 L303.78,452.51 L304.08,451.88 L304.39,451.25 L304.69,450.63 L305.00,450.00 L305.31,449.38 L305.62,448.77 L305.93,448.17 L306.25,447.56 L306.56,446.94 L306.87,446.31 L307.18,445.67 L307.50,445.00 L307.87,444.19 L308.25,443.35 L308.63,442.49 L309.01,441.61 L309.39,440.72 L309.77,439.82 L310.14,438.91 L310.50,438.00 L310.88,437.04 L311.24,436.08 L311.61,435.12 L311.96,434.15 L312.32,433.15 L312.68,432.13 L313.04,431.09 L313.40,430.00 L313.85,428.64 L314.30,427.24 L314.76,425.80 L315.21,424.32 L315.67,422.80 L316.12,421.24 L316.56,419.64 L317.00,418.00 L317.52,415.94 L318.02,413.79 L318.52,411.57 L319.01,409.30 L319.51,406.99 L320.00,404.66 L320.49,402.32 L321.00,400.00 L321.54,397.55 L322.09,395.08 L322.65,392.58 L323.21,390.07 L323.76,387.55 L324.32,385.03 L324.86,382.51 L325.40,380.00 L325.93,377.48 L326.45,374.93 L326.96,372.37 L327.47,369.82 L327.98,367.29 L328.49,364.80 L328.99,362.36 L329.50,360.00 L329.93,358.00 L330.36,356.02 L330.78,354.07 L331.20,352.16 L331.63,350.29 L332.07,348.47 L332.53,346.71 L333.00,345.00 L333.40,343.62 L333.80,342.25 L334.20,340.91 L334.62,339.61 L335.05,338.36 L335.50,337.16 L335.98,336.04 L336.50,335.00 L336.92,334.21 L337.35,333.39 L337.80,332.57 L338.26,331.81 L338.74,331.14 L339.22,330.60 L339.71,330.24 L340.20,330.10 L340.73,330.22 L341.30,330.57 L341.90,331.12 L342.49,331.80 L343.06,332.58 L343.60,333.41 L344.09,334.23 L344.50,335.00 L344.84,335.80 L345.09,336.63 L345.28,337.50 L345.43,338.41 L345.56,339.34 L345.70,340.30 L345.87,341.29 L346.10,342.30 L346.48,343.68 L346.91,345.13 L347.38,346.65 L347.87,348.20 L348.38,349.78 L348.87,351.37 L349.35,352.95 L349.80,354.50 L350.22,356.03 L350.62,357.57 L351.01,359.10 L351.39,360.64 L351.76,362.18 L352.14,363.72 L352.52,365.26 L352.90,366.80 L353.28,368.34 L353.66,369.88 L354.04,371.42 L354.42,372.96 L354.80,374.50 L355.19,376.03 L355.59,377.57 L356.00,379.10 L356.42,380.63 L356.85,382.16 L357.29,383.69 L357.73,385.21 L358.18,386.73 L358.64,388.26 L359.12,389.78 L359.60,391.30 L360.10,392.83 L360.62,394.35 L361.16,395.87 L361.70,397.38 L362.24,398.91 L362.80,400.45 L363.35,402.01 L363.90,403.60 L364.49,405.41 L365.05,407.29 L365.61,409.23 L366.18,411.17 L366.77,413.08 L367.40,414.93 L368.07,416.68 L368.80,418.30 L369.44,419.52 L370.12,420.68 L370.83,421.80 L371.56,422.86 L372.31,423.88 L373.07,424.86 L373.84,425.80 L374.60,426.70 L375.25,427.45 L375.91,428.19 L376.57,428.91 L377.24,429.59 L377.91,430.23 L378.60,430.82 L379.29,431.35 L380.00,431.80 L380.61,432.13 L381.25,432.42 L381.90,432.67 L382.55,432.89 L383.20,433.06 L383.83,433.19 L384.43,433.27 L385.00,433.30 L385.41,433.29 L385.81,433.24 L386.19,433.17 L386.56,433.07 L386.92,432.95 L387.28,432.81 L387.64,432.66 L388.00,432.50 L388.39,432.31 L388.77,432.08 L389.14,431.84 L389.52,431.58 L389.89,431.31 L390.26,431.03 L390.63,430.76 L391.00,430.50 L391.37,430.25 L391.74,430.02 L392.10,429.80 L392.46,429.57 L392.83,429.32 L393.21,429.05 L393.60,428.75 L394.00,428.40 L394.68,427.75 L395.41,426.99 L396.17,426.15 L396.96,425.24 L397.75,424.30 L398.52,423.35 L399.28,422.41 L400.00,421.50 L400.67,420.63 L401.32,419.75 L401.96,418.86 L402.58,417.97 L403.20,417.08 L403.81,416.20 L404.41,415.34 L405.00,414.50 L405.52,413.77 L406.04,413.06 L406.55,412.35 L407.06,411.65 L407.56,410.97 L408.05,410.30 L408.53,409.64 L409.00,409.00 L409.39,408.47 L409.78,407.96 L410.16,407.47 L410.53,406.98 L410.90,406.49 L411.27,406.01 L411.63,405.51 L412.00,405.00 L412.38,404.45 L412.75,403.89 L413.13,403.32 L413.50,402.74 L413.87,402.17 L414.24,401.60 L414.62,401.04 L415.00,400.50 L415.36,400.00 L415.72,399.51 L416.08,399.03 L416.44,398.55 L416.81,398.08 L417.19,397.62 L417.59,397.16 L418.00,396.70 L418.46,396.21 L418.93,395.71 L419.42,395.20 L419.92,394.71 L420.43,394.23 L420.94,393.78 L421.47,393.37 L422.00,393.00 L422.48,392.71 L422.98,392.43 L423.49,392.19 L424.00,391.96 L424.51,391.76 L425.02,391.59 L425.52,391.43 L426.00,391.30 L426.39,391.21 L426.77,391.14 L427.15,391.08 L427.52,391.04 L427.89,391.01 L428.26,391.00 L428.63,390.99 L429.00,391.00 L429.38,391.02 L429.75,391.05 L430.12,391.09 L430.50,391.14 L430.87,391.21 L431.24,391.29 L431.62,391.39 L432.00,391.50 L432.44,391.65 L432.88,391.82 L433.33,392.00 L433.78,392.21 L434.22,392.44 L434.66,392.68 L435.09,392.93 L435.50,393.20 L435.90,393.49 L436.28,393.79 L436.64,394.10 L437.00,394.43 L437.36,394.79 L437.72,395.16 L438.10,395.57 L438.50,396.00 L439.13,396.72 L439.80,397.55 L440.49,398.44 L441.20,399.38 L441.92,400.34 L442.63,401.28 L443.33,402.18 L444.00,403.00 L444.53,403.63 L445.04,404.20 L445.53,404.75 L446.02,405.29 L446.52,405.84 L447.04,406.41 L447.60,407.02 L448.20,407.70 L449.17,408.87 L450.20,410.18 L451.28,411.60 L452.42,413.08 L453.62,414.56 L454.90,416.01 L456.26,417.37 L457.70,418.60 L459.48,419.91 L461.44,421.24 L463.53,422.52 L465.69,423.73 L467.88,424.80 L470.05,425.70 L472.14,426.38 L474.10,426.80 L475.53,426.92 L476.92,426.89 L478.27,426.72 L479.60,426.45 L480.93,426.10 L482.26,425.69 L483.61,425.25 L485.00,424.80 L486.64,424.21 L488.29,423.48 L489.95,422.66 L491.62,421.79 L493.32,420.91 L495.05,420.06 L496.81,419.27 L498.60,418.60 L500.56,417.96 L502.59,417.33 L504.66,416.74 L506.76,416.21 L508.87,415.74 L510.96,415.38 L513.01,415.12 L515.00,415.00 L516.77,415.00 L518.52,415.10 L520.25,415.28 L521.96,415.54 L523.66,415.88 L525.33,416.29 L526.98,416.77 L528.60,417.30 L530.22,417.95 L531.83,418.75 L533.41,419.64 L534.98,420.59 L536.51,421.56 L538.01,422.49 L539.48,423.35 L540.90,424.10 L541.98,424.62 L543.01,425.11 L544.01,425.57 L545.00,426.01 L545.98,426.41 L546.98,426.80 L548.01,427.16 L549.10,427.50 L550.38,427.85 L551.70,428.16 L553.06,428.44 L554.44,428.69 L555.84,428.91 L557.24,429.12 L558.63,429.32 L560.00,429.50 L561.31,429.67 L562.61,429.84 L563.91,429.99 L565.20,430.13 L566.50,430.24 L567.82,430.33 L569.15,430.38 L570.50,430.40 L572.00,430.37 L573.53,430.28 L575.08,430.15 L576.64,430.00 L578.21,429.82 L579.78,429.64 L581.34,429.46 L582.90,429.30 L584.43,429.13 L585.94,428.93 L587.44,428.71 L588.94,428.50 L590.47,428.31 L592.02,428.15 L593.63,428.04 L595.30,428.00 L597.47,428.05 L599.78,428.19 L602.17,428.40 L604.60,428.67 L607.04,428.98 L609.43,429.29 L611.73,429.61 L613.90,429.90 L615.56,430.13 L617.15,430.36 L618.68,430.59 L620.18,430.83 L621.66,431.08 L623.17,431.34 L624.70,431.61 L626.30,431.90 L628.16,432.24 L630.06,432.61 L631.99,433.00 L633.94,433.39 L635.91,433.80 L637.89,434.20 L639.85,434.61 L641.80,435.00 L643.74,435.41 L645.67,435.87 L647.61,436.33 L649.54,436.80 L651.48,437.22 L653.41,437.60 L655.36,437.90 L657.30,438.10 L659.22,438.18 L661.13,438.15 L663.04,438.05 L664.95,437.89 L666.88,437.71 L668.82,437.54 L670.79,437.39 L672.80,437.30 L675.09,437.23 L677.48,437.16 L679.94,437.10 L682.40,437.05 L684.83,437.03 L687.17,437.06 L689.37,437.15 L691.40,437.30 L692.74,437.50 L694.02,437.78 L695.24,438.12 L696.42,438.46 L697.55,438.78 L698.63,439.04 L699.68,439.19 L700.70,439.20 L701.44,439.08 L702.11,438.86 L702.74,438.57 L703.34,438.24 L703.97,437.90 L704.63,437.60 L705.37,437.35 L706.20,437.20 L707.85,437.15 L709.71,437.28 L711.75,437.56 L713.93,437.93 L716.20,438.36 L718.53,438.79 L720.88,439.19 L723.20,439.50 L725.97,439.80 L728.87,440.12 L731.87,440.42 L734.91,440.72 L737.94,440.98 L740.92,441.21 L743.79,441.39 L746.50,441.50 L748.59,441.53 L750.59,441.49 L752.54,441.42 L754.45,441.32 L756.33,441.22 L758.20,441.14 L760.08,441.09 L762.00,441.10 L763.94,441.18 L765.88,441.32 L767.81,441.50 L769.75,441.69 L771.69,441.88 L773.63,442.04 L775.56,442.16 L777.50,442.20 L779.43,442.15 L781.34,442.02 L783.25,441.85 L785.16,441.64 L787.08,441.44 L789.03,441.26 L791.00,441.14 L793.00,441.10 L795.24,441.16 L797.51,441.30 L799.82,441.50 L802.15,441.74 L804.50,441.99 L806.86,442.23 L809.23,442.44 L811.60,442.60 L814.08,442.71 L816.59,442.79 L819.12,442.85 L821.66,442.89 L824.20,442.93 L826.72,442.97 L829.23,443.02 L831.70,443.10 L834.06,443.21 L836.43,443.34 L838.81,443.49 L841.16,443.64 L843.47,443.78 L845.73,443.89 L847.91,443.97 L850.00,444.00 L851.57,443.98 L853.05,443.92 L854.46,443.84 L855.85,443.75 L857.23,443.65 L858.65,443.55 L860.13,443.46 L861.70,443.40 L863.86,443.36 L866.20,443.35 L868.65,443.35 L871.14,443.36 L873.61,443.37 L875.97,443.35 L878.16,443.30 L880.10,443.20 L881.16,443.10 L882.07,442.99 L882.88,442.85 L883.66,442.71 L884.47,442.56 L885.38,442.43 L886.43,442.30 L887.70,442.20 L893.09,442.02 L900.95,441.94 L910.31,441.94 L920.17,442.00 L929.56,442.09 L937.48,442.19 L942.96,442.27 L945.00,442.30" stroke="#00ff00"/>
<path d="M130.00,578.80 L131.27,578.79 L134.66,578.77 L139.57,578.76 L145.36,578.75 L151.41,578.76 L157.12,578.80 L161.85,578.88 L165.00,579.00 L165.63,579.05 L166.14,579.10 L166.56,579.16 L166.94,579.21 L167.30,579.28 L167.70,579.34 L168.15,579.42 L168.70,579.50 L170.05,579.70 L171.65,579.96 L173.43,580.25 L175.34,580.55 L177.32,580.86 L179.29,581.15 L181.21,581.40 L183.00,581.60 L184.58,581.73 L186.19,581.82 L187.80,581.88 L189.39,581.93 L190.93,581.97 L192.39,582.03 L193.76,582.10 L195.00,582.20 L195.72,582.28 L196.35,582.36 L196.94,582.45 L197.50,582.54 L198.06,582.64 L198.65,582.75 L199.28,582.87 L200.00,583.00 L201.31,583.24 L202.79,583.52 L204.39,583.83 L206.05,584.17 L207.74,584.52 L209.39,584.88 L210.96,585.24 L212.40,585.60 L213.44,585.88 L214.44,586.17 L215.40,586.45 L216.33,586.75 L217.24,587.05 L218.15,587.35 L219.07,587.67 L220.00,588.00 L220.98,588.35 L221.98,588.70 L223.00,589.07 L224.00,589.45 L224.99,589.83 L225.95,590.22 L226.85,590.61 L227.70,591.00 L228.31,591.30 L228.90,591.59 L229.47,591.88 L230.01,592.17 L230.53,592.48 L231.03,592.79 L231.52,593.13 L232.00,593.50 L232.45,593.87 L232.87,594.26 L233.27,594.66 L233.66,595.07 L234.04,595.51 L234.42,595.97 L234.80,596.47 L235.20,597.00 L235.77,597.81 L236.34,598.71 L236.92,599.67 L237.50,600.69 L238.08,601.73 L238.66,602.79 L239.24,603.85 L239.80,604.90 L240.39,606.02 L240.98,607.18 L241.56,608.37 L242.14,609.56 L242.72,610.74 L243.29,611.89 L243.85,612.98 L244.40,614.00 L244.82,614.76 L245.24,615.50 L245.65,616.22 L246.05,616.91 L246.46,617.57 L246.87,618.19 L247.28,618.77 L247.70,619.30 L248.02,619.69 L248.33,620.08 L248.65,620.47 L248.97,620.83 L249.30,621.14 L249.63,621.38 L249.96,621.54 L250.30,621.60 L250.70,621.53 L251.11,621.34 L251.54,621.04 L251.97,620.65 L252.40,620.20 L252.81,619.70 L253.22,619.16 L253.60,618.60 L254.17,617.57 L254.69,616.32 L255.17,614.91 L255.62,613.40 L256.07,611.85 L256.52,610.31 L256.99,608.84 L257.50,607.50 L257.96,606.42 L258.43,605.37 L258.91,604.33 L259.39,603.33 L259.89,602.35 L260.38,601.40 L260.89,600.48 L261.40,599.60 L261.84,598.89 L262.29,598.20 L262.76,597.54 L263.22,596.90 L263.68,596.28 L264.14,595.67 L264.58,595.08 L265.00,594.50 L265.33,594.03 L265.64,593.57 L265.94,593.12 L266.24,592.68 L266.54,592.25 L266.84,591.82 L267.16,591.41 L267.50,591.00 L267.85,590.59 L268.22,590.19 L268.59,589.79 L268.96,589.41 L269.36,589.03 L269.76,588.67 L270.17,588.32 L270.60,588.00 L271.05,587.69 L271.51,587.40 L271.99,587.12 L272.47,586.86 L272.97,586.62 L273.47,586.39 L273.99,586.19 L274.50,586.00 L275.02,585.84 L275.55,585.70 L276.08,585.58 L276.61,585.48 L277.16,585.39 L277.73,585.32 L278.30,585.26 L278.90,585.20 L279.65,585.14 L280.42,585.10 L281.22,585.07 L282.04,585.06 L282.88,585.06 L283.72,585.09 L284.56,585.13 L285.40,585.20 L286.31,585.30 L287.22,585.43 L288.14,585.59 L289.07,585.77 L290.01,585.96 L290.96,586.17 L291.92,586.38 L292.90,586.60 L294.02,586.86 L295.16,587.15 L296.32,587.45 L297.49,587.77 L298.67,588.09 L299.85,588.41 L301.03,588.71 L302.20,589.00 L303.36,589.26 L304.53,589.48 L305.70,589.70 L306.86,589.91 L308.03,590.13 L309.19,590.38 L310.35,590.66 L311.50,591.00 L312.68,591.41 L313.84,591.87 L315.01,592.37 L316.17,592.89 L317.32,593.43 L318.48,593.97 L319.64,594.50 L320.80,595.00 L321.97,595.50 L323.15,596.01 L324.35,596.53 L325.53,597.05 L326.71,597.53 L327.87,597.98 L329.00,598.38 L330.10,598.70 L330.95,598.92 L331.78,599.11 L332.59,599.27 L333.38,599.40 L334.17,599.50 L334.97,599.57 L335.77,599.60 L336.60,599.60 L337.51,599.55 L338.45,599.45 L339.40,599.30 L340.35,599.12 L341.30,598.92 L342.23,598.69 L343.13,598.45 L344.00,598.20 L344.74,597.97 L345.45,597.73 L346.14,597.47 L346.82,597.20 L347.49,596.91 L348.16,596.61 L348.83,596.31 L349.50,596.00 L350.20,595.67 L350.89,595.32 L351.58,594.95 L352.27,594.58 L352.96,594.20 L353.65,593.83 L354.33,593.46 L355.00,593.10 L355.63,592.76 L356.23,592.41 L356.82,592.05 L357.42,591.70 L358.02,591.37 L358.65,591.05 L359.30,590.76 L360.00,590.50 L360.88,590.23 L361.80,590.01 L362.74,589.82 L363.73,589.66 L364.75,589.52 L365.82,589.40 L366.93,589.30 L368.10,589.20 L369.89,589.08 L371.86,588.99 L373.94,588.94 L376.10,588.92 L378.29,588.93 L380.47,588.99 L382.59,589.07 L384.60,589.20 L386.34,589.36 L388.03,589.57 L389.70,589.82 L391.35,590.09 L392.98,590.37 L394.61,590.66 L396.25,590.94 L397.90,591.20 L399.53,591.45 L401.13,591.72 L402.71,591.99 L404.30,592.26 L405.91,592.51 L407.57,592.74 L409.29,592.94 L411.10,593.10 L413.57,593.25 L416.23,593.35 L419.01,593.42 L421.85,593.44 L424.69,593.42 L427.47,593.35 L430.13,593.25 L432.60,593.10 L434.40,592.94 L436.10,592.73 L437.72,592.49 L439.31,592.23 L440.88,591.96 L442.47,591.69 L444.10,591.43 L445.80,591.20 L447.78,590.95 L449.81,590.68 L451.89,590.42 L453.98,590.16 L456.09,589.93 L458.19,589.73 L460.26,589.58 L462.30,589.50 L464.19,589.49 L466.05,589.55 L467.88,589.66 L469.71,589.80 L471.55,589.95 L473.40,590.10 L475.28,590.22 L477.20,590.30 L479.33,590.34 L481.47,590.35 L483.63,590.33 L485.82,590.31 L488.04,590.28 L490.31,590.27 L492.62,590.27 L495.00,590.30 L497.90,590.39 L500.91,590.54 L504.00,590.72 L507.15,590.91 L510.32,591.08 L513.51,591.22 L516.67,591.30 L519.80,591.30 L522.84,591.20 L525.80,591.01 L528.73,590.76 L531.67,590.48 L534.67,590.19 L537.80,589.91 L541.09,589.67 L544.60,589.50 L549.98,589.36 L555.80,589.31 L561.95,589.32 L568.33,589.36 L574.85,589.43 L581.40,589.49 L587.88,589.52 L594.20,589.50 L600.30,589.43 L606.25,589.34 L612.14,589.23 L618.06,589.10 L624.10,588.98 L630.35,588.87 L636.88,588.77 L643.80,588.70 L653.62,588.65 L663.78,588.63 L674.33,588.63 L685.33,588.66 L696.84,588.69 L708.92,588.73 L721.62,588.77 L735.00,588.80 L759.99,588.84 L791.27,588.90 L825.88,588.96 L860.85,589.03 L893.22,589.10 L920.01,589.15 L938.26,589.19 L945.00,589.20" stroke="#0000ff"/>
<path d="M130.00,578.60 L131.27,578.62 L134.67,578.66 L139.57,578.71 L145.36,578.75 L151.42,578.77 L157.12,578.75 L161.86,578.66 L165.00,578.50 L165.64,578.43 L166.18,578.36 L166.64,578.29 L167.04,578.21 L167.43,578.12 L167.81,578.02 L168.23,577.92 L168.70,577.80 L169.36,577.63 L170.04,577.44 L170.75,577.23 L171.48,577.01 L172.22,576.79 L172.95,576.55 L173.68,576.32 L174.40,576.10 L175.11,575.89 L175.82,575.68 L176.53,575.48 L177.24,575.27 L177.94,575.06 L178.64,574.83 L179.33,574.58 L180.00,574.30 L180.65,574.00 L181.29,573.69 L181.92,573.36 L182.55,573.01 L183.16,572.65 L183.78,572.28 L184.39,571.89 L185.00,571.50 L185.64,571.08 L186.27,570.65 L186.90,570.21 L187.53,569.76 L188.16,569.29 L188.78,568.81 L189.39,568.31 L190.00,567.80 L190.64,567.23 L191.28,566.65 L191.91,566.04 L192.54,565.42 L193.16,564.79 L193.78,564.14 L194.39,563.47 L195.00,562.80 L195.65,562.07 L196.29,561.33 L196.92,560.58 L197.56,559.81 L198.18,559.02 L198.80,558.21 L199.40,557.37 L200.00,556.50 L200.66,555.47 L201.30,554.40 L201.93,553.30 L202.56,552.16 L203.17,551.01 L203.78,549.84 L204.39,548.67 L205.00,547.50 L205.64,546.29 L206.27,545.07 L206.91,543.84 L207.54,542.61 L208.16,541.36 L208.78,540.09 L209.39,538.81 L210.00,537.50 L210.65,536.06 L211.28,534.60 L211.91,533.10 L212.53,531.60 L213.15,530.08 L213.77,528.55 L214.38,527.02 L215.00,525.50 L215.63,523.93 L216.27,522.32 L216.91,520.69 L217.54,519.06 L218.17,517.46 L218.79,515.90 L219.40,514.41 L220.00,513.00 L220.46,511.94 L220.91,510.90 L221.36,509.88 L221.81,508.90 L222.25,507.96 L222.67,507.08 L223.09,506.25 L223.50,505.50 L223.76,505.04 L224.00,504.59 L224.23,504.17 L224.47,503.77 L224.70,503.40 L224.95,503.07 L225.21,502.76 L225.50,502.50 L225.75,502.30 L226.02,502.12 L226.30,501.94 L226.58,501.80 L226.87,501.68 L227.15,501.60 L227.43,501.57 L227.70,501.60 L228.01,501.71 L228.31,501.89 L228.61,502.14 L228.90,502.45 L229.19,502.80 L229.47,503.18 L229.74,503.59 L230.00,504.00 L230.37,504.67 L230.71,505.43 L231.04,506.26 L231.34,507.15 L231.64,508.08 L231.93,509.04 L232.21,510.02 L232.50,511.00 L232.84,512.21 L233.16,513.49 L233.47,514.81 L233.77,516.16 L234.07,517.53 L234.37,518.88 L234.68,520.21 L235.00,521.50 L235.30,522.66 L235.61,523.80 L235.93,524.92 L236.24,526.03 L236.56,527.14 L236.88,528.25 L237.19,529.37 L237.50,530.50 L237.81,531.68 L238.13,532.87 L238.44,534.07 L238.75,535.27 L239.06,536.47 L239.37,537.66 L239.68,538.84 L240.00,540.00 L240.30,541.10 L240.61,542.19 L240.91,543.28 L241.22,544.36 L241.53,545.43 L241.85,546.47 L242.17,547.50 L242.50,548.50 L242.80,549.37 L243.10,550.22 L243.40,551.06 L243.71,551.88 L244.02,552.69 L244.34,553.48 L244.67,554.25 L245.00,555.00 L245.30,555.65 L245.60,556.28 L245.91,556.90 L246.22,557.50 L246.53,558.09 L246.85,558.67 L247.17,559.24 L247.50,559.80 L247.80,560.30 L248.10,560.79 L248.41,561.28 L248.71,561.75 L249.03,562.22 L249.34,562.66 L249.67,563.09 L250.00,563.50 L250.29,563.84 L250.59,564.17 L250.89,564.48 L251.19,564.78 L251.50,565.07 L251.82,565.35 L252.15,565.63 L252.50,565.90 L252.89,566.19 L253.29,566.46 L253.70,566.72 L254.13,566.98 L254.57,567.23 L255.03,567.48 L255.50,567.74 L256.00,568.00 L256.67,568.36 L257.36,568.73 L258.08,569.11 L258.83,569.49 L259.61,569.87 L260.43,570.23 L261.29,570.58 L262.20,570.90 L263.51,571.30 L264.92,571.66 L266.40,572.00 L267.95,572.31 L269.56,572.60 L271.21,572.88 L272.89,573.14 L274.60,573.40 L276.74,573.69 L278.98,573.96 L281.29,574.20 L283.66,574.42 L286.05,574.62 L288.46,574.82 L290.85,575.01 L293.20,575.20 L295.52,575.39 L297.85,575.56 L300.17,575.73 L302.50,575.89 L304.82,576.04 L307.15,576.19 L309.47,576.35 L311.80,576.50 L314.14,576.66 L316.50,576.83 L318.87,577.00 L321.24,577.16 L323.59,577.32 L325.91,577.47 L328.18,577.59 L330.40,577.70 L332.35,577.77 L334.31,577.83 L336.25,577.88 L338.17,577.92 L340.02,577.95 L341.79,577.97 L343.46,577.98 L345.00,578.00 L345.98,577.99 L346.94,577.96 L347.87,577.92 L348.75,577.88 L349.58,577.86 L350.34,577.86 L351.01,577.90 L351.60,578.00 L351.84,578.07 L352.02,578.17 L352.16,578.27 L352.30,578.38 L352.44,578.49 L352.63,578.60 L352.87,578.70 L353.20,578.80 L359.60,579.42 L371.28,579.72 L387.31,579.76 L406.74,579.62 L428.66,579.37 L452.13,579.11 L476.22,578.89 L500.00,578.80 L550.19,578.80 L615.19,578.80 L688.36,578.80 L763.09,578.80 L832.74,578.80 L890.69,578.80 L930.32,578.80 L945.00,578.80" stroke="#ff00ff"/>
<path d="M130.00,578.90 L132.38,578.90 L138.78,578.91 L148.10,578.91 L159.25,578.89 L171.11,578.85 L182.59,578.77 L192.59,578.66 L200.00,578.50 L202.69,578.40 L205.15,578.27 L207.41,578.13 L209.49,577.99 L211.44,577.85 L213.29,577.72 L215.06,577.60 L216.80,577.50 L217.95,577.45 L219.01,577.41 L220.01,577.38 L220.98,577.35 L221.93,577.33 L222.90,577.29 L223.91,577.25 L225.00,577.20 L226.43,577.12 L227.92,577.04 L229.47,576.95 L231.04,576.85 L232.64,576.74 L234.24,576.61 L235.84,576.46 L237.40,576.30 L238.95,576.11 L240.51,575.91 L242.06,575.69 L243.61,575.46 L245.16,575.21 L246.71,574.95 L248.25,574.68 L249.80,574.40 L251.35,574.12 L252.91,573.84 L254.47,573.55 L256.02,573.26 L257.57,572.94 L259.12,572.59 L260.66,572.22 L262.20,571.80 L263.77,571.35 L265.33,570.88 L266.90,570.39 L268.46,569.87 L270.01,569.30 L271.56,568.69 L273.09,568.03 L274.60,567.30 L276.19,566.45 L277.77,565.52 L279.33,564.53 L280.89,563.49 L282.43,562.41 L283.96,561.29 L285.48,560.15 L287.00,559.00 L288.59,557.74 L290.19,556.39 L291.77,555.00 L293.35,553.58 L294.91,552.17 L296.44,550.80 L297.94,549.50 L299.40,548.30 L300.55,547.38 L301.68,546.46 L302.78,545.57 L303.87,544.71 L304.94,543.91 L306.01,543.18 L307.06,542.54 L308.10,542.00 L308.90,541.65 L309.69,541.35 L310.47,541.10 L311.24,540.88 L312.01,540.72 L312.78,540.60 L313.54,540.53 L314.30,540.50 L315.03,540.52 L315.77,540.60 L316.51,540.73 L317.24,540.89 L317.96,541.09 L318.66,541.31 L319.34,541.55 L320.00,541.80 L320.56,542.04 L321.08,542.30 L321.57,542.58 L322.06,542.88 L322.55,543.20 L323.06,543.54 L323.60,543.91 L324.20,544.30 L325.25,544.99 L326.41,545.78 L327.66,546.65 L328.96,547.56 L330.28,548.49 L331.60,549.41 L332.88,550.29 L334.10,551.10 L335.12,551.78 L336.11,552.47 L337.09,553.15 L338.06,553.81 L339.03,554.43 L340.00,555.01 L340.99,555.54 L342.00,556.00 L342.96,556.37 L343.92,556.69 L344.88,556.97 L345.86,557.20 L346.84,557.40 L347.84,557.56 L348.86,557.70 L349.90,557.80 L351.07,557.88 L352.26,557.92 L353.47,557.91 L354.70,557.87 L355.94,557.78 L357.21,557.66 L358.49,557.50 L359.80,557.30 L361.37,556.99 L362.98,556.58 L364.62,556.10 L366.29,555.58 L367.98,555.03 L369.68,554.49 L371.39,553.97 L373.10,553.50 L374.92,553.04 L376.77,552.59 L378.64,552.15 L380.52,551.71 L382.40,551.30 L384.26,550.90 L386.10,550.54 L387.90,550.20 L389.50,549.90 L391.07,549.60 L392.62,549.30 L394.16,549.03 L395.70,548.80 L397.23,548.62 L398.76,548.52 L400.30,548.50 L401.85,548.58 L403.39,548.75 L404.94,549.00 L406.48,549.30 L408.03,549.63 L409.58,549.99 L411.13,550.35 L412.70,550.70 L414.34,551.07 L416.00,551.49 L417.66,551.94 L419.32,552.39 L420.99,552.84 L422.66,553.27 L424.33,553.66 L426.00,554.00 L427.64,554.29 L429.29,554.55 L430.94,554.79 L432.59,555.00 L434.24,555.19 L435.89,555.35 L437.55,555.49 L439.20,555.60 L440.85,555.68 L442.50,555.74 L444.15,555.76 L445.80,555.77 L447.45,555.75 L449.10,555.71 L450.75,555.66 L452.40,555.60 L454.05,555.51 L455.70,555.40 L457.35,555.26 L459.00,555.11 L460.65,554.95 L462.30,554.79 L463.95,554.64 L465.60,554.50 L467.24,554.37 L468.87,554.23 L470.49,554.09 L472.11,553.96 L473.75,553.83 L475.40,553.71 L477.08,553.60 L478.80,553.50 L480.73,553.40 L482.69,553.30 L484.68,553.21 L486.70,553.14 L488.73,553.08 L490.80,553.05 L492.89,553.06 L495.00,553.10 L497.38,553.21 L499.81,553.37 L502.28,553.58 L504.77,553.82 L507.28,554.08 L509.80,554.34 L512.31,554.58 L514.80,554.80 L517.29,555.02 L519.77,555.26 L522.26,555.51 L524.75,555.75 L527.24,555.97 L529.73,556.14 L532.21,556.26 L534.70,556.30 L537.14,556.25 L539.54,556.10 L541.92,555.90 L544.30,555.65 L546.72,555.40 L549.21,555.15 L551.79,554.94 L554.50,554.80 L558.19,554.68 L562.14,554.59 L566.26,554.54 L570.48,554.52 L574.71,554.53 L578.88,554.58 L582.90,554.67 L586.70,554.80 L589.62,554.96 L592.34,555.17 L594.93,555.42 L597.48,555.68 L600.09,555.95 L602.84,556.21 L605.81,556.43 L609.10,556.60 L615.30,556.76 L622.39,556.79 L630.12,556.75 L638.20,556.66 L646.36,556.56 L654.33,556.50 L661.84,556.50 L668.60,556.60 L673.11,556.76 L677.38,556.98 L681.46,557.23 L685.41,557.50 L689.27,557.77 L693.09,558.00 L696.92,558.19 L700.80,558.30 L704.47,558.33 L708.03,558.31 L711.54,558.24 L715.04,558.15 L718.59,558.05 L722.23,557.94 L726.02,557.86 L730.00,557.80 L735.84,557.73 L742.58,557.64 L749.79,557.55 L757.04,557.47 L763.90,557.44 L769.93,557.47 L774.71,557.58 L777.80,557.80 L778.19,557.87 L778.47,557.94 L778.68,558.01 L778.86,558.09 L779.04,558.17 L779.26,558.25 L779.57,558.33 L780.00,558.40 L790.35,558.84 L810.58,559.04 L837.20,559.07 L866.76,558.97 L895.79,558.80 L920.82,558.61 L938.38,558.46 L945.00,558.40" stroke="#00ffff"/>
</g>
<text transform="translate(166.10,673.3) scale(0.95,1)" text-anchor="middle" class="tl">0</text>
<text transform="translate(321.05,673.3) scale(0.95,1)" text-anchor="middle" class="tl">30</text>
<text transform="translate(476.00,673.3) scale(0.95,1)" text-anchor="middle" class="tl">60</text>
<text transform="translate(630.95,673.3) scale(0.95,1)" text-anchor="middle" class="tl">90</text>
<text transform="translate(785.90,673.3) scale(0.95,1)" text-anchor="middle" class="tl">120</text>
<text transform="translate(940.85,673.3) scale(0.95,1)" text-anchor="middle" class="tl">150</text>
<text transform="translate(121,589.50) scale(0.95,1)" text-anchor="end" class="tl">0.00</text>
<text transform="translate(121,495.58) scale(0.95,1)" text-anchor="end" class="tl">0.02</text>
<text transform="translate(121,401.66) scale(0.95,1)" text-anchor="end" class="tl">0.04</text>
<text transform="translate(121,307.74) scale(0.95,1)" text-anchor="end" class="tl">0.06</text>
<text transform="translate(121,213.82) scale(0.95,1)" text-anchor="end" class="tl">0.08</text>
<text transform="translate(121,119.90) scale(0.95,1)" text-anchor="end" class="tl">0.10</text>
<text transform="translate(121,25.98) scale(0.95,1)" text-anchor="end" class="tl">0.12</text>
<text x="539" y="722.8" text-anchor="middle" class="at">energy loss (eV)</text>
<text transform="translate(29,302.5) rotate(-90)" text-anchor="middle" class="at">intensity (arb. units)</text>
<rect x="363.5" y="122.5" width="90" height="72" fill="#000"/>
<rect x="354.5" y="113.5" width="89.5" height="72" fill="#fff" stroke="#555" stroke-width="1.2"/>
<text x="398.5" y="167.8" text-anchor="middle" class="si">Si</text>
<rect x="713.5" y="65.3" width="8" height="8" fill="#000"/>
<text x="770.5" y="82" class="lg">Exp.</text>
<line x1="675.5" y1="120" x2="760" y2="120" stroke="#ff0000" stroke-width="3.4" stroke-linecap="round"/>
<text x="770" y="132.8" class="lg"><tspan font-style="italic">I</tspan><tspan font-style="italic" font-size="26" dy="10">total</tspan><tspan dy="-10">(</tspan><tspan class="om">ω</tspan>)</text>
<line x1="675.5" y1="180" x2="760" y2="180" stroke="#00ff00" stroke-width="3.4" stroke-linecap="round"/>
<text x="770" y="192.8" class="lg"><tspan font-style="italic">I</tspan><tspan font-style="italic" font-size="26" dy="10">bulk</tspan><tspan dy="-10">(</tspan><tspan class="om">ω</tspan>)</text>
<line x1="675.5" y1="240" x2="760" y2="240" stroke="#0000ff" stroke-width="3.4" stroke-linecap="round"/>
<text x="770" y="252.8" class="lg"><tspan font-style="italic">I</tspan><tspan font-style="italic" font-size="26" dy="10">beg</tspan><tspan dy="-10">(</tspan><tspan class="om">ω</tspan>)</text>
<line x1="675.5" y1="299" x2="760" y2="299" stroke="#ff00ff" stroke-width="3.4" stroke-linecap="round"/>
<text x="770" y="311.8" class="lg"><tspan font-style="italic">I</tspan><tspan font-style="italic" font-size="26" dy="10">surf</tspan><tspan dy="-10">(</tspan><tspan class="om">ω</tspan>)</text>
<line x1="675.5" y1="358" x2="760" y2="358" stroke="#00ffff" stroke-width="3.4" stroke-linecap="round"/>
<text x="770" y="370.8" class="lg"><tspan font-style="italic">I</tspan><tspan font-style="italic" font-size="26" dy="10">mixed</tspan><tspan dy="-10">(</tspan><tspan class="om">ω</tspan>)</text>
</svg>
</body></html>
